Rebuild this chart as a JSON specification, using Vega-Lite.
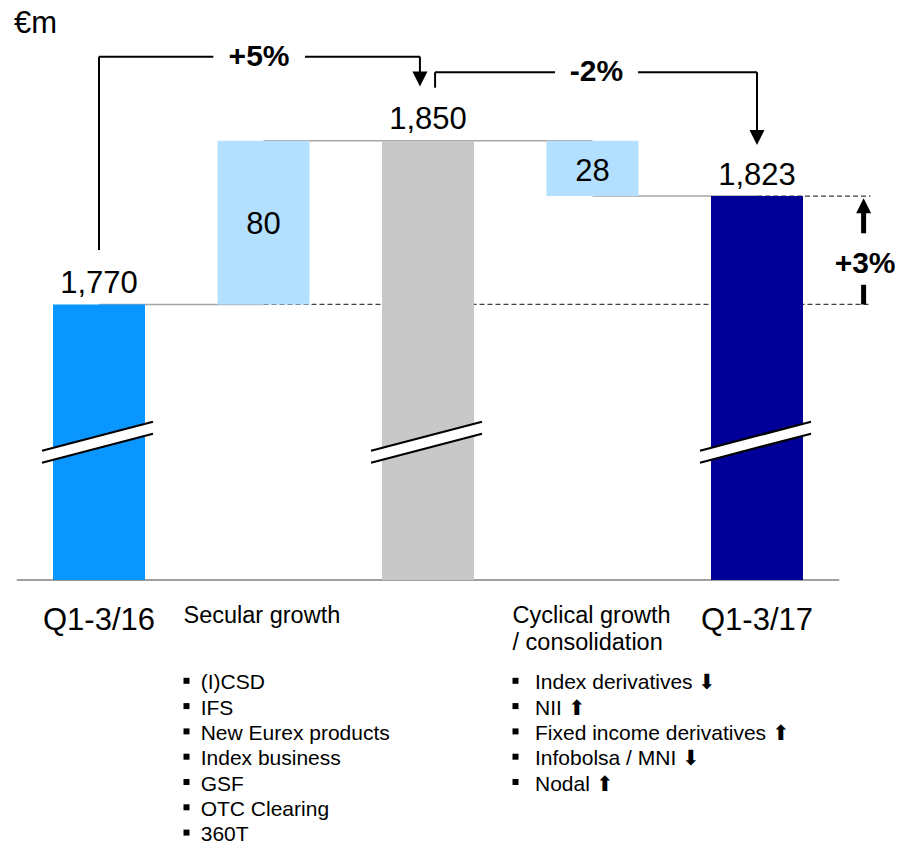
{
  "$schema": "https://vega.github.io/schema/vega-lite/v6.json",
  "background": "white",
  "padding": 0,
  "spacing": 0,
  "bounds": "flush",
  "config": {"font": "Liberation Sans", "view": {"stroke": null}, "scale": {"continuousPadding": 0}},
  "datasets": {
    "steps": [
      {"step": "Q1-3/16", "pos": 0, "low": 0, "high": 1770, "label": "1,770", "kind": "total"},
      {"step": "Secular growth", "pos": 1, "low": 1770, "high": 1850, "label": "80", "kind": "increase"},
      {"step": "Subtotal", "pos": 2, "low": 0, "high": 1850, "label": "1,850", "kind": "subtotal"},
      {"step": "Cyclical growth / consolidation", "pos": 3, "low": 1823, "high": 1850, "label": "28", "kind": "decrease"},
      {"step": "Q1-3/17", "pos": 4, "low": 0, "high": 1823, "label": "1,823", "kind": "final"}
    ],
    "connectors": [
      {"from": 0, "to": 1, "level": 1770},
      {"from": 1, "to": 2, "level": 1850},
      {"from": 2, "to": 3, "level": 1850},
      {"from": 3, "to": 4, "level": 1823}
    ],
    "references": [
      {"from": 1, "to": 4.69, "level": 1770},
      {"from": 4, "to": 4.69, "level": 1823}
    ],
    "axisline": [{"from": -0.5, "to": 4.5, "level": 0}],
    "breaks": [{"pos": 0, "at": 1702.6}, {"pos": 2, "at": 1702.6}, {"pos": 4, "at": 1702.6}],
    "bracketLines": [
      {"bracket": "+5%", "x": 0, "x2": 0, "y": 1796.6, "y2": 1891.2},
      {"bracket": "+5%", "x": 0, "x2": 0.695, "y": 1891.2, "y2": 1891.2},
      {"bracket": "+5%", "x": 1.252, "x2": 1.951, "y": 1891.2, "y2": 1891.2},
      {"bracket": "+5%", "x": 1.951, "x2": 1.951, "y": 1891.2, "y2": 1881},
      {"bracket": "-2%", "x": 2.043, "x2": 2.043, "y": 1876.0, "y2": 1883.6},
      {"bracket": "-2%", "x": 2.043, "x2": 2.772, "y": 1883.6, "y2": 1883.6},
      {"bracket": "-2%", "x": 3.277, "x2": 4.0, "y": 1883.6, "y2": 1883.6},
      {"bracket": "-2%", "x": 4.0, "x2": 4.0, "y": 1883.6, "y2": 1853}
    ],
    "heads": [
      {"x": 1.951, "y": 1880.2, "dir": "down"},
      {"x": 4.0, "y": 1851.7, "dir": "down"},
      {"x": 4.648, "y": 1818.2, "dir": "up"}
    ],
    "growthBars": [
      {"x": 4.648, "y": 1819.6, "y2": 1804.8},
      {"x": 4.648, "y": 1779.6, "y2": 1770}
    ],
    "bracketLabels": [
      {"text": "+5%", "x": 0.973, "y": 1891.2},
      {"text": "-2%", "x": 3.024, "y": 1883.6},
      {"text": "+3%", "x": 4.657, "y": 1789.8}
    ],
    "unit": [{"text": "€m", "x": -0.517, "y": 1902.6}],
    "categories": [
      {"text": "Q1-3/16", "pos": 0, "line": 0},
      {"text": "Q1-3/17", "pos": 4, "line": 0}
    ],
    "headers": [
      {"text": "Secular growth", "pos": 1, "line": 0},
      {"text": "Cyclical growth\n/ consolidation", "pos": 3, "line": 0}
    ],
    "items": [
      {"group": "Secular growth", "pos": 1, "line": 1, "text": "(I)CSD"},
      {"group": "Secular growth", "pos": 1, "line": 2, "text": "IFS"},
      {"group": "Secular growth", "pos": 1, "line": 3, "text": "New Eurex products"},
      {"group": "Secular growth", "pos": 1, "line": 4, "text": "Index business"},
      {"group": "Secular growth", "pos": 1, "line": 5, "text": "GSF"},
      {"group": "Secular growth", "pos": 1, "line": 6, "text": "OTC Clearing"},
      {"group": "Secular growth", "pos": 1, "line": 7, "text": "360T"},
      {"group": "Cyclical", "pos": 3, "line": 1, "text": "Index derivatives ⬇"},
      {"group": "Cyclical", "pos": 3, "line": 2, "text": "NII ⬆"},
      {"group": "Cyclical", "pos": 3, "line": 3, "text": "Fixed income derivatives  ⬆"},
      {"group": "Cyclical", "pos": 3, "line": 4, "text": "Infobolsa / MNI ⬇"},
      {"group": "Cyclical", "pos": 3, "line": 5, "text": "Nodal ⬆"}
    ]
  },
  "vconcat": [
    {
      "width": 899,
      "height": 580,
      "layer": [
        {
          "data": {"name": "references"},
          "mark": {"type": "rule", "color": "#404040", "strokeWidth": 1.2, "strokeDash": [5, 3]},
          "encoding": {
            "x": {"field": "from", "type": "quantitative", "scale": {"domain": [-0.6018, 4.8632], "nice": false, "zero": false, "padding": 0}, "axis": null},
            "x2": {"field": "to"},
            "y": {"field": "level", "type": "quantitative", "scale": {"domain": [1635.2, 1918.9], "nice": false, "zero": false, "clamp": true, "padding": 0}, "axis": null}
          }
        },
        {
          "data": {"name": "connectors"},
          "mark": {"type": "rule", "color": "#A6A6A6", "strokeWidth": 1.5},
          "encoding": {
            "x": {"field": "from", "type": "quantitative", "scale": {"domain": [-0.6018, 4.8632], "nice": false, "zero": false, "padding": 0}, "axis": null},
            "x2": {"field": "to"},
            "y": {"field": "level", "type": "quantitative", "scale": {"domain": [1635.2, 1918.9], "nice": false, "zero": false, "clamp": true, "padding": 0}, "axis": null}
          }
        },
        {
          "data": {"name": "axisline"},
          "mark": {"type": "rule", "color": "#404040", "strokeWidth": 1.2},
          "encoding": {
            "x": {"field": "from", "type": "quantitative", "scale": {"domain": [-0.6018, 4.8632], "nice": false, "zero": false, "padding": 0}, "axis": null},
            "x2": {"field": "to"},
            "y": {"field": "level", "type": "quantitative", "scale": {"domain": [1635.2, 1918.9], "nice": false, "zero": false, "clamp": true, "padding": 0}, "axis": null}
          }
        },
        {
          "data": {"name": "steps"},
          "mark": {"type": "bar", "width": 92},
          "encoding": {
            "x": {"field": "pos", "type": "quantitative", "scale": {"domain": [-0.6018, 4.8632], "nice": false, "zero": false, "padding": 0}, "axis": null},
            "y": {"field": "high", "type": "quantitative", "scale": {"domain": [1635.2, 1918.9], "nice": false, "zero": false, "clamp": true, "padding": 0}, "axis": null},
            "y2": {"field": "low"},
            "color": {"field": "kind", "type": "nominal", "scale": {"domain": ["total", "increase", "subtotal", "decrease", "final"], "range": ["#0A96FF", "#B4E0FF", "#C8C8C8", "#B4E0FF", "#000099"]}, "legend": null}
          }
        },
        {
          "data": {"name": "breaks"},
          "mark": {"type": "rule", "color": "white", "strokeWidth": 11, "strokeCap": "butt", "xOffset": -57, "x2Offset": 54, "yOffset": 14.5, "y2Offset": -14.5},
          "encoding": {
            "x": {"field": "pos", "type": "quantitative", "scale": {"domain": [-0.6018, 4.8632], "nice": false, "zero": false, "padding": 0}, "axis": null},
            "x2": {"field": "pos"},
            "y": {"field": "at", "type": "quantitative", "scale": {"domain": [1635.2, 1918.9], "nice": false, "zero": false, "clamp": true, "padding": 0}, "axis": null},
            "y2": {"field": "at"}
          }
        },
        {
          "data": {"name": "breaks"},
          "mark": {"type": "rule", "color": "black", "strokeWidth": 2.2, "xOffset": -57, "x2Offset": 54, "yOffset": 8.5, "y2Offset": -20.5},
          "encoding": {
            "x": {"field": "pos", "type": "quantitative", "scale": {"domain": [-0.6018, 4.8632], "nice": false, "zero": false, "padding": 0}, "axis": null},
            "x2": {"field": "pos"},
            "y": {"field": "at", "type": "quantitative", "scale": {"domain": [1635.2, 1918.9], "nice": false, "zero": false, "clamp": true, "padding": 0}, "axis": null},
            "y2": {"field": "at"}
          }
        },
        {
          "data": {"name": "breaks"},
          "mark": {"type": "rule", "color": "black", "strokeWidth": 2.2, "xOffset": -57, "x2Offset": 54, "yOffset": 20.5, "y2Offset": -8.5},
          "encoding": {
            "x": {"field": "pos", "type": "quantitative", "scale": {"domain": [-0.6018, 4.8632], "nice": false, "zero": false, "padding": 0}, "axis": null},
            "x2": {"field": "pos"},
            "y": {"field": "at", "type": "quantitative", "scale": {"domain": [1635.2, 1918.9], "nice": false, "zero": false, "clamp": true, "padding": 0}, "axis": null},
            "y2": {"field": "at"}
          }
        },
        {
          "data": {"name": "steps"},
          "transform": [{"filter": "datum.low == 0"}],
          "mark": {"type": "text", "fontSize": 31, "align": "center", "baseline": "alphabetic", "dy": -11.5, "color": "black"},
          "encoding": {
            "x": {"field": "pos", "type": "quantitative", "scale": {"domain": [-0.6018, 4.8632], "nice": false, "zero": false, "padding": 0}, "axis": null},
            "y": {"field": "high", "type": "quantitative", "scale": {"domain": [1635.2, 1918.9], "nice": false, "zero": false, "clamp": true, "padding": 0}, "axis": null},
            "text": {"field": "label", "type": "nominal"}
          }
        },
        {
          "data": {"name": "steps"},
          "transform": [{"filter": "datum.kind == 'increase'"}],
          "mark": {"type": "text", "fontSize": 31, "align": "center", "baseline": "middle", "dy": 84, "color": "black"},
          "encoding": {
            "x": {"field": "pos", "type": "quantitative", "scale": {"domain": [-0.6018, 4.8632], "nice": false, "zero": false, "padding": 0}, "axis": null},
            "y": {"field": "high", "type": "quantitative", "scale": {"domain": [1635.2, 1918.9], "nice": false, "zero": false, "clamp": true, "padding": 0}, "axis": null},
            "text": {"field": "label", "type": "nominal"}
          }
        },
        {
          "data": {"name": "steps"},
          "transform": [{"filter": "datum.kind == 'decrease'"}],
          "mark": {"type": "text", "fontSize": 31, "align": "center", "baseline": "middle", "dy": 31, "color": "black"},
          "encoding": {
            "x": {"field": "pos", "type": "quantitative", "scale": {"domain": [-0.6018, 4.8632], "nice": false, "zero": false, "padding": 0}, "axis": null},
            "y": {"field": "high", "type": "quantitative", "scale": {"domain": [1635.2, 1918.9], "nice": false, "zero": false, "clamp": true, "padding": 0}, "axis": null},
            "text": {"field": "label", "type": "nominal"}
          }
        },
        {
          "data": {"name": "bracketLines"},
          "mark": {"type": "rule", "color": "black", "strokeWidth": 2},
          "encoding": {
            "x": {"field": "x", "type": "quantitative", "scale": {"domain": [-0.6018, 4.8632], "nice": false, "zero": false, "padding": 0}, "axis": null},
            "x2": {"field": "x2"},
            "y": {"field": "y", "type": "quantitative", "scale": {"domain": [1635.2, 1918.9], "nice": false, "zero": false, "clamp": true, "padding": 0}, "axis": null},
            "y2": {"field": "y2"}
          }
        },
        {
          "data": {"name": "growthBars"},
          "mark": {"type": "rule", "color": "black", "strokeWidth": 5},
          "encoding": {
            "x": {"field": "x", "type": "quantitative", "scale": {"domain": [-0.6018, 4.8632], "nice": false, "zero": false, "padding": 0}, "axis": null},
            "y": {"field": "y", "type": "quantitative", "scale": {"domain": [1635.2, 1918.9], "nice": false, "zero": false, "clamp": true, "padding": 0}, "axis": null},
            "y2": {"field": "y2"}
          }
        },
        {
          "data": {"name": "heads"},
          "mark": {"type": "point", "filled": true, "color": "black", "opacity": 1, "size": 225},
          "encoding": {
            "x": {"field": "x", "type": "quantitative", "scale": {"domain": [-0.6018, 4.8632], "nice": false, "zero": false, "padding": 0}, "axis": null},
            "y": {"field": "y", "type": "quantitative", "scale": {"domain": [1635.2, 1918.9], "nice": false, "zero": false, "clamp": true, "padding": 0}, "axis": null},
            "shape": {"field": "dir", "type": "nominal", "scale": {"domain": ["down", "up"], "range": ["M-1,-1L1,-1L0,1Z", "M-1,1L1,1L0,-1Z"]}, "legend": null}
          }
        },
        {
          "data": {"name": "bracketLabels"},
          "mark": {"type": "text", "fontSize": 30, "fontWeight": "bold", "align": "center", "baseline": "middle", "color": "black"},
          "encoding": {
            "x": {"field": "x", "type": "quantitative", "scale": {"domain": [-0.6018, 4.8632], "nice": false, "zero": false, "padding": 0}, "axis": null},
            "y": {"field": "y", "type": "quantitative", "scale": {"domain": [1635.2, 1918.9], "nice": false, "zero": false, "clamp": true, "padding": 0}, "axis": null},
            "text": {"field": "text", "type": "nominal"}
          }
        },
        {
          "data": {"name": "unit"},
          "mark": {"type": "text", "fontSize": 31, "align": "left", "baseline": "alphabetic", "color": "black"},
          "encoding": {
            "x": {"field": "x", "type": "quantitative", "scale": {"domain": [-0.6018, 4.8632], "nice": false, "zero": false, "padding": 0}, "axis": null},
            "y": {"field": "y", "type": "quantitative", "scale": {"domain": [1635.2, 1918.9], "nice": false, "zero": false, "clamp": true, "padding": 0}, "axis": null},
            "text": {"field": "text", "type": "nominal"}
          }
        }
      ]
    },
    {
      "width": 899,
      "height": 263,
      "layer": [
        {
          "data": {"name": "categories"},
          "mark": {"type": "text", "fontSize": 31, "align": "center", "baseline": "alphabetic", "dy": -34, "color": "black"},
          "encoding": {
            "x": {"field": "pos", "type": "quantitative", "scale": {"domain": [-0.6018, 4.8632], "nice": false, "zero": false, "padding": 0}, "axis": null},
            "y": {"field": "line", "type": "quantitative", "scale": {"domain": [-3.32, 7.075], "nice": false, "zero": false, "reverse": true, "padding": 0}, "axis": null},
            "text": {"field": "text", "type": "nominal"}
          }
        },
        {
          "data": {"name": "headers"},
          "mark": {"type": "text", "fontSize": 23.5, "align": "left", "baseline": "alphabetic", "dx": -80, "dy": -40.7, "lineBreak": "\n", "lineHeight": 26.7, "color": "black"},
          "encoding": {
            "x": {"field": "pos", "type": "quantitative", "scale": {"domain": [-0.6018, 4.8632], "nice": false, "zero": false, "padding": 0}, "axis": null},
            "y": {"field": "line", "type": "quantitative", "scale": {"domain": [-3.32, 7.075], "nice": false, "zero": false, "reverse": true, "padding": 0}, "axis": null},
            "text": {"field": "text", "type": "nominal"}
          }
        },
        {
          "data": {"name": "items"},
          "mark": {"type": "point", "shape": "square", "filled": true, "opacity": 1, "color": "black", "size": 36, "xOffset": -77, "yOffset": -8.5},
          "encoding": {
            "x": {"field": "pos", "type": "quantitative", "scale": {"domain": [-0.6018, 4.8632], "nice": false, "zero": false, "padding": 0}, "axis": null},
            "y": {"field": "line", "type": "quantitative", "scale": {"domain": [-3.32, 7.075], "nice": false, "zero": false, "reverse": true, "padding": 0}, "axis": null}
          }
        },
        {
          "data": {"name": "items"},
          "transform": [{"filter": "datum.group == 'Secular growth'"}],
          "mark": {"type": "text", "fontSize": 21, "align": "left", "baseline": "alphabetic", "dx": -62.8, "color": "black"},
          "encoding": {
            "x": {"field": "pos", "type": "quantitative", "scale": {"domain": [-0.6018, 4.8632], "nice": false, "zero": false, "padding": 0}, "axis": null},
            "y": {"field": "line", "type": "quantitative", "scale": {"domain": [-3.32, 7.075], "nice": false, "zero": false, "reverse": true, "padding": 0}, "axis": null},
            "text": {"field": "text", "type": "nominal"}
          }
        },
        {
          "data": {"name": "items"},
          "transform": [{"filter": "datum.group == 'Cyclical'"}],
          "mark": {"type": "text", "fontSize": 21, "align": "left", "baseline": "alphabetic", "dx": -57.5, "color": "black"},
          "encoding": {
            "x": {"field": "pos", "type": "quantitative", "scale": {"domain": [-0.6018, 4.8632], "nice": false, "zero": false, "padding": 0}, "axis": null},
            "y": {"field": "line", "type": "quantitative", "scale": {"domain": [-3.32, 7.075], "nice": false, "zero": false, "reverse": true, "padding": 0}, "axis": null},
            "text": {"field": "text", "type": "nominal"}
          }
        }
      ]
    }
  ]
}
